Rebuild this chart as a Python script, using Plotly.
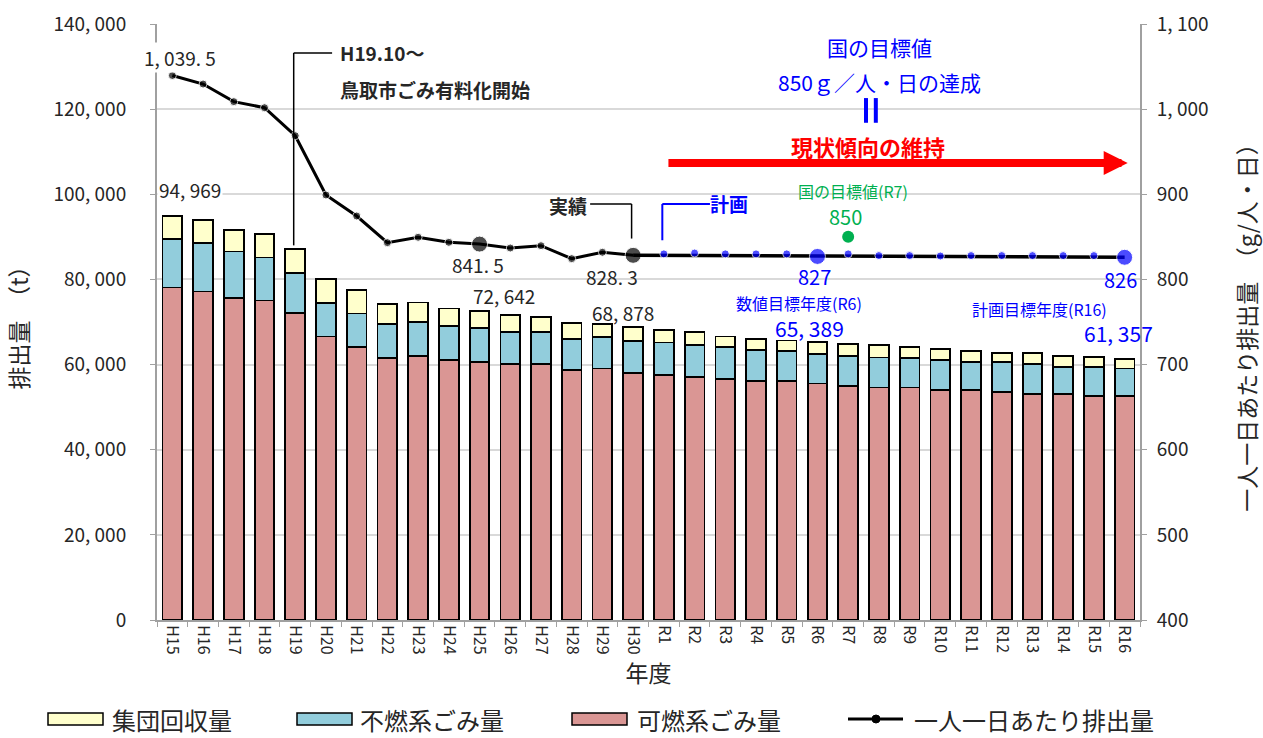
import plotly.graph_objects as go

years = ["H15","H16","H17","H18","H19","H20","H21","H22","H23","H24","H25","H26","H27","H28","H29","H30",
         "R1","R2","R3","R4","R5","R6","R7","R8","R9","R10","R11","R12","R13","R14","R15","R16"]
kanen = [78100,77150,75600,75050,72070,66600,64100,61570,62040,61020,60550,60080,60080,58750,59060,58050,
         57580,57030,56560,56170,56170,55540,54990,54600,54600,54050,54050,53500,53110,53110,52640,52640]
funen = [11435,11350,10950,10100,9530,7900,7900,7990,7990,8000,8070,7520,7520,7210,7370,7520,
         7600,7520,7520,7280,6970,6970,7050,7040,6890,7050,6580,7130,6970,6410,6880,6420]
shudan = [5434,5500,5100,5550,5500,5550,5600,4620,4540,4140,4022,4080,3530,3760,3050,3308,
          2970,3050,2500,2650,2500,2879,2740,2980,2670,2510,2510,2110,2580,2520,2210,2297]

actual_years = years[:16]
per_capita_actual = [1039.5,1029.5,1008.8,1001.7,968.8,899.2,874.5,843.2,849.5,843.6,841.5,836.9,839.6,824.4,831.9,828.3]
plan_years = years[16:]
per_capita_plan = [830,831,830,830,830,827,830,828,828,827.5,828,828,828,828,828,826]
trend_years = ["H30","R16"]
trend_vals = [828.3,826]
nat_year = ["R7"]
nat_val = [850]

left_ticks = [0,20000,40000,60000,80000,100000,120000,140000]
left_text = ["0","20, 000","40, 000","60, 000","80, 000","100, 000","120, 000","140, 000"]
right_ticks = [400,500,600,700,800,900,1000,1100]
right_text = ["400","500","600","700","800","900","1, 000","1, 100"]

FONT = "Noto Sans CJK JP"
TXT = "#262626"
BLUE = "#0000ff"
GREEN = "#00b050"
RED = "#ff0000"
C_RED = "#da9694"
C_BLUE = "#92cddc"
C_YEL = "#ffffcc"

fig = go.Figure()
for name, vals, col in [("可燃系ごみ量", kanen, C_RED), ("不燃系ごみ量", funen, C_BLUE), ("集団回収量", shudan, C_YEL)]:
    fig.add_trace(go.Bar(x=years, y=vals, name=name, marker=dict(color=col, line=dict(color="black", width=1.8)),
                         yaxis="y", showlegend=False))

big_actual = [16 if y in ("H25","H30") else 8 for y in actual_years]
fig.add_trace(go.Scatter(x=actual_years, y=per_capita_actual, yaxis="y2", mode="lines+markers",
                         line=dict(color="black", width=3), marker=dict(color="black", size=big_actual),
                         showlegend=False))
fig.add_trace(go.Scatter(x=trend_years, y=trend_vals, yaxis="y2", mode="lines",
                         line=dict(color="black", width=3.5), showlegend=False))
big_plan = [16 if y in ("R6","R16") else 8 for y in plan_years]
fig.add_trace(go.Scatter(x=plan_years, y=per_capita_plan, yaxis="y2", mode="markers",
                         marker=dict(color=BLUE, size=big_plan), showlegend=False))
fig.add_trace(go.Scatter(x=nat_year, y=nat_val, yaxis="y2", mode="markers",
                         marker=dict(color=GREEN, size=12), showlegend=False))

ann = []
def A(text, x, y, yref="y2", size=17, color=TXT, bold=False, xanchor="center", bg=None):
    t = f"<b>{text}</b>" if bold else text
    d = dict(text=t, x=x, y=y, xref="x", yref=yref, showarrow=False, xanchor=xanchor, yanchor="middle",
             font=dict(family=FONT, size=size, color=color))
    if bg:
        d["bgcolor"] = bg
    ann.append(d)

A("1, 039. 5", 0.25, 1061, size=19, bg="white")
A("94, 969", 0.57, 101050, yref="y", size=19, bg="white")
A("841. 5", 9.95, 817, size=19)
A("72, 642", 10.8, 76140, yref="y", size=19)
A("828. 3", 14.3, 803, size=19)
A("68, 878", 14.66, 72145, yref="y", size=19)
A("827", 20.9, 804, size=20, color=BLUE)
A("数値目標年度(R6)", 20.4, 772, size=16, color=BLUE)
A("65, 389", 20.75, 68620, yref="y", size=21, color=BLUE)
A("826", 30.85, 800, size=20, color=BLUE)
A("計画目標年度(R16)", 28.24, 765, size=16, color=BLUE)
A("61, 357", 30.8, 67445, yref="y", size=21, color=BLUE)
A("国の目標値(R7)", 22.16, 904, size=16, color=GREEN)
A("850", 21.9, 874, size=20, color=GREEN)
A("国の目標値", 23.03, 1073, size=21, color=BLUE)
A("850ｇ／人・日の達成", 23.03, 1032, size=21, color=BLUE)
A("現状傾向の維持", 22.64, 956.7, size=22, color=RED, bold=True)
A("実績", 12.88, 887.4, size=19, bold=True)
A("計画", 18.12, 888.6, size=19, color=BLUE, bold=True)
A("H19.10～", 5.4, 1066, size=19, bold=True, xanchor="left")
A("鳥取市ごみ有料化開始", 5.4, 1022.5, size=19, bold=True, xanchor="left")

# red arrow
ann.append(dict(x=31.1, y=936.8, ax=16.1, ay=936.8, xref="x", yref="y2", axref="x", ayref="y2",
                showarrow=True, arrowhead=2, arrowsize=0.6, arrowwidth=8, arrowcolor=RED, text=""))

shapes = []
def L(x0, y0, x1, y1, color="black", width=1.5, yref="y2"):
    shapes.append(dict(type="line", xref="x", yref=yref, x0=x0, y0=y0, x1=x1, y1=y1,
                       line=dict(color=color, width=width)))
# leaders
L(3.95, 1066, 5.2, 1066)
L(3.95, 1066, 3.95, 840)
L(13.6, 888.6, 14.95, 888.6)
L(14.95, 888.6, 14.95, 848)
L(15.95, 888.6, 17.5, 888.6, color=BLUE, width=2)
L(15.95, 888.6, 15.95, 846, color=BLUE, width=2)
# equals (vertical) sign
L(22.58, 1013, 22.58, 984, color=BLUE, width=4)
L(22.9, 1013, 22.9, 984, color=BLUE, width=4)

# custom legend
def px2p(px):
    return (px - 157) / 983
def py2p(py):
    return (620 - py) / 596
leg_y = 719
for (x0, x1, col, label, tx) in [(48, 103, C_YEL, "集団回収量", 110), (297, 352, C_BLUE, "不燃系ごみ量", 358),
                                 (572, 627, C_RED, "可燃系ごみ量", 635)]:
    shapes.append(dict(type="rect", xref="paper", yref="paper", x0=px2p(x0), x1=px2p(x1),
                       y0=py2p(leg_y + 6), y1=py2p(leg_y - 6), fillcolor=col, line=dict(color="black", width=1.5)))
    ann.append(dict(text=label, x=px2p(tx), y=py2p(leg_y), xref="paper", yref="paper", showarrow=False,
                    xanchor="left", yanchor="middle", font=dict(family=FONT, size=24, color=TXT)))
shapes.append(dict(type="line", xref="paper", yref="paper", x0=px2p(848), x1=px2p(903), y0=py2p(leg_y), y1=py2p(leg_y),
                   line=dict(color="black", width=3)))
shapes.append(dict(type="circle", xref="paper", yref="paper", xsizemode="pixel", ysizemode="pixel",
                   xanchor=px2p(876), yanchor=py2p(leg_y), x0=-4, x1=4, y0=-4, y1=4,
                   fillcolor="black", line=dict(color="black", width=1)))
ann.append(dict(text="一人一日あたり排出量", x=px2p(912), y=py2p(leg_y), xref="paper", yref="paper", showarrow=False,
                xanchor="left", yanchor="middle", font=dict(family=FONT, size=24, color=TXT)))

fig.update_layout(
    width=1263, height=738,
    margin=dict(l=157, r=123, t=24, b=118, autoexpand=False),
    paper_bgcolor="white", plot_bgcolor="white",
    barmode="stack", bargap=0.36,
    font=dict(family=FONT, color=TXT, size=17),
    xaxis=dict(type="category", range=[-0.5, 31.5], tickangle=90, tickson="boundaries", ticks="outside", ticklen=5,
               tickcolor="#a0a0a0", showline=True, linecolor="#a0a0a0", linewidth=2, automargin=False,
               tickfont=dict(size=16, family=FONT, color=TXT),
               title=dict(text="年度", font=dict(size=23, family=FONT), standoff=6)),
    yaxis=dict(range=[0, 140000], tickvals=left_ticks, ticktext=left_text, showgrid=True, gridcolor="#d9d9d9",
               gridwidth=1.5, ticks="outside", ticklen=5, tickcolor="#a0a0a0", showline=True,
               linecolor="#a0a0a0", linewidth=2, zeroline=False, tickfont=dict(size=19),
               ticklabelstandoff=20, automargin=False,
               title=dict(text="排出量　（t）", font=dict(size=23), standoff=18)),
    yaxis2=dict(range=[400, 1100], overlaying="y", side="right", tickvals=right_ticks, ticktext=right_text,
                showgrid=False, ticks="outside", ticklen=5, tickcolor="#a0a0a0", showline=True,
                linecolor="#a0a0a0", linewidth=2, zeroline=False, tickfont=dict(size=19),
                ticklabelstandoff=6, automargin=False,
                title=dict(text="一人一日あたり排出量　（g/人・日）", font=dict(size=23), standoff=36)),
    annotations=ann, shapes=shapes, showlegend=False,
)
fig.write_html("out.html")
